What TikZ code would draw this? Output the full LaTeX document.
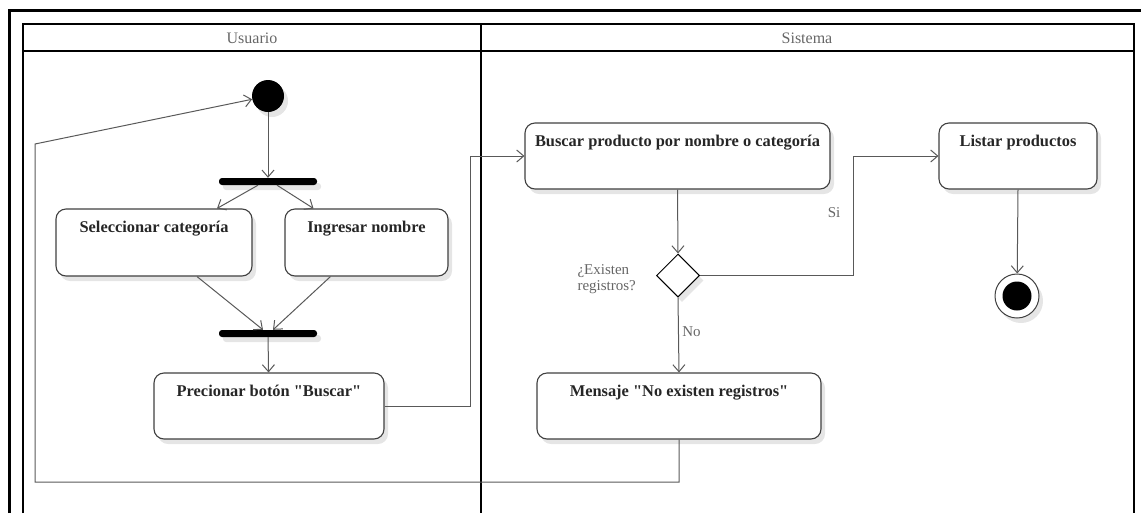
\documentclass[tikz,border=0pt]{standalone}
\usepackage{fontspec}
\setmainfont{Liberation Serif}
\newfontfamily\labelfont{Liberation Serif}
\usetikzlibrary{arrows.meta,shapes.geometric,shadows,calc}

\tikzset{
  shade box/.style={drop shadow={shadow xshift=4pt, shadow yshift=-5pt, fill=black!10, opacity=1}},
  actionbox/.style={draw=black!75, line width=1.1pt, rounded corners=10pt, fill=white,
    shade box, font=\labelfont\bfseries\fontsize{16.4}{19}\selectfont, text=black!85,
    text height=23pt, text depth=43pt, inner ysep=0pt, inner xsep=0pt},
  syncbar/.style={rectangle, fill=black, rounded corners=3pt, minimum width=98pt,
    minimum height=7pt, inner sep=0pt, shade box},
  flow/.style={draw=black!65, line width=1pt, -{Straight Barb[length=7pt,width=12pt]}},
  lanetitle/.style={font=\labelfont\fontsize{16}{18}\selectfont, text=black!60},
  guard/.style={font=\labelfont\fontsize{15}{16.5}\selectfont, text=black!60},
}

\begin{document}
\begin{tikzpicture}[x=1pt,y=-1pt]
\useasboundingbox (0,0) rectangle (1141,523);

% outer frame and swimlane pool
\draw[line width=3pt] (9,513) -- (9,10) -- (1146,10);
\draw[line width=1.8pt] (23,513) -- (23,24) -- (1134,24) -- (1134,513);
\draw[line width=1.8pt] (23,51) -- (1134,51);
\draw[line width=1.8pt] (481,24) -- (481,513);
\node[lanetitle] (lane1) at (252,38.5) {Usuario};
\node[lanetitle] (lane2) at (807,38.5) {Sistema};

% user lane
\node[circle, fill=black, minimum size=32pt, inner sep=0pt, shade box] (init) at (268,96) {};
\node[syncbar] (fork) at (268,181.5) {};
\node[actionbox, minimum width=196pt, minimum height=67pt] (sel) at (154,242.5) {Seleccionar categoría};
\node[actionbox, minimum width=163pt, minimum height=67pt] (ing) at (366.5,242.5) {Ingresar nombre};
\node[syncbar] (join) at (268,333.5) {};
\node[actionbox, minimum width=230pt, minimum height=66pt] (prec) at (269,406) {Precionar botón "Buscar"};

% system lane
\node[actionbox, minimum width=305pt, minimum height=66pt] (busc) at (677.5,156) {Buscar producto por nombre o categoría};
\node[actionbox, minimum width=158pt, minimum height=66pt] (list) at (1018,156) {Listar productos};
\node[diamond, draw=black, line width=1pt, fill=white, minimum width=43pt, minimum height=43pt,
      inner sep=0pt, shade box] (dec) at (678,275.5) {};
\node[guard, align=left, anchor=west] (q) at (574,279) {¿Existen\\registros?};
\node[actionbox, minimum width=284pt, minimum height=66pt] (mens) at (679,406) {Mensaje "No existen registros"};
\node[circle, draw=black!75, line width=1pt, fill=white, minimum size=44pt, inner sep=0pt, shade box,
      path picture={\fill[black] (path picture bounding box.center) circle (14.5pt);}] (fin) at (1017,296) {};

% routing points
\coordinate (c1) at (35,482);
\coordinate (c2) at (35,144);
\coordinate (c3) at (470,156);
\coordinate (c4) at (853,156);

% flows
\draw[flow] (init) -- (fork);
\draw[flow] ($(fork.south)+(-10,0)$) -- ($(sel.north)+(63,0)$);
\draw[flow] ($(fork.south)+(9,0)$) -- ($(ing.north)+(-53,0)$);
\draw[flow] ($(sel.south)+(43,0)$) -- ($(join.north)+(-5,0)$);
\draw[flow] ($(ing.south)+(-36,0)$) -- ($(join.north)+(5,0)$);
\draw[flow] (join) -- (prec);
\draw[flow] (prec.east) -| (c3) -- (busc.west);
\draw[flow] (busc.south) -- (dec.north);
\draw[flow] (dec.east) -| (c4) -- (list.west);
\draw[flow] (dec.south) -- node[guard, right, pos=0.45] (no) {No} (mens.north);
\draw[flow] (list.south) -- (fin);
\draw[flow] (mens.south) |- (c1) -- (c2) -- (init);
\node[guard] (si) at (834,213) {Si};
\end{tikzpicture}
\end{document}
